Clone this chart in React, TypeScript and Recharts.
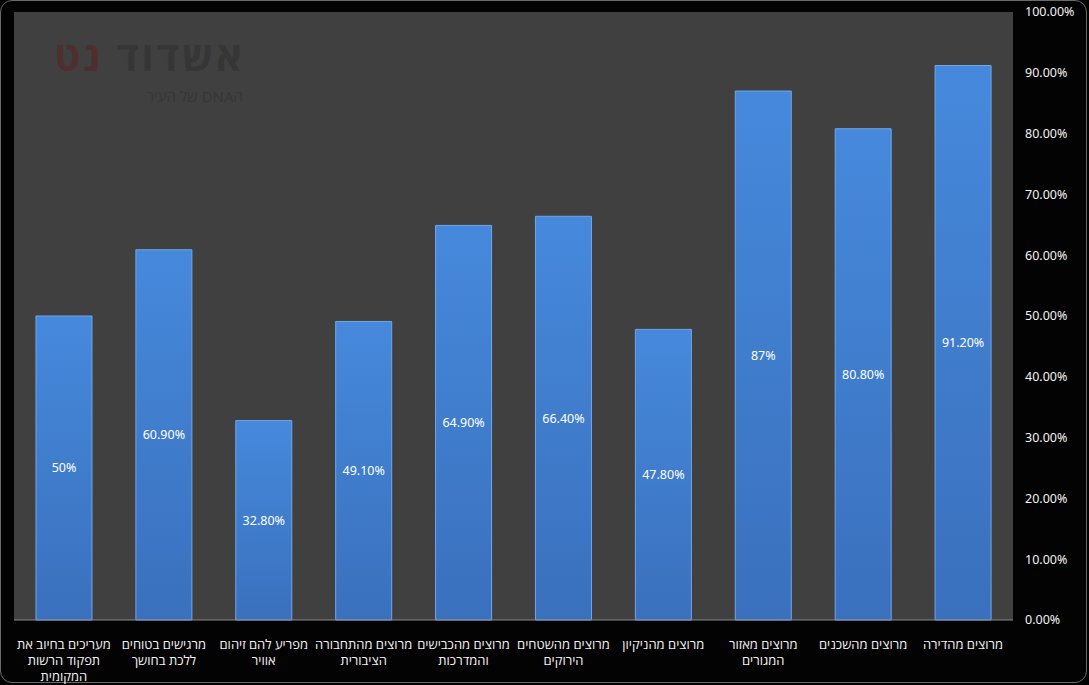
import React from 'react';
import {
  BarChart,
  Bar,
  XAxis,
  YAxis,
  CartesianGrid,
  LabelList,
} from 'recharts';

// קטגוריות (שורות מפוצלות כמו בגרף המקורי)
const categories: string[][] = [
  ['מעריכים בחיוב את', 'תפקוד הרשות', 'המקומית'],
  ['מרגישים בטוחים', 'ללכת בחושך'],
  ['מפריע להם זיהום', 'אוויר'],
  ['מרוצים מהתחבורה', 'הציבורית'],
  ['מרוצים מהכבישים', 'והמדרכות'],
  ['מרוצים מהשטחים', 'הירוקים'],
  ['מרוצים מהניקיון'],
  ['מרוצים מאזור', 'המגורים'],
  ['מרוצים מהשכנים'],
  ['מרוצים מהדירה'],
];

const values: number[] = [50, 60.9, 32.8, 49.1, 64.9, 66.4, 47.8, 87, 80.8, 91.2];

const valueLabels: string[] = [
  '50%', '60.90%', '32.80%', '49.10%', '64.90%',
  '66.40%', '47.80%', '87%', '80.80%', '91.20%',
];

const yTicks: number[] = [0, 10, 20, 30, 40, 50, 60, 70, 80, 90, 100];

const data = categories.map((lines, i) => ({
  name: String(i),
  lines,
  value: values[i],
  label: valueLabels[i],
}));

const FONT = '"Noto Sans", "Open Sans", sans-serif';

function CategoryTick(props: any) {
  const { x, y, payload } = props;
  const lines = categories[Number(payload.value)] || [];
  return (
    <text x={x} y={y + 21} textAnchor="middle" fill="#f2f2f2" fontSize={13} fontFamily={FONT}>
      {lines.map((l, i) => (
        <tspan key={i} x={x} dy={i === 0 ? 0 : 16}>
          {l}
        </tspan>
      ))}
    </text>
  );
}

export default function App() {
  return (
    <div
      style={{
        position: 'relative',
        width: 1089,
        height: 685,
        background: '#000',
      }}
    >
      <style>{'body{margin:0}'}</style>
      <div
        style={{
          position: 'absolute',
          left: 0,
          top: 0,
          width: 1085,
          height: 681,
          border: '1px solid #6a6a6a',
          borderRadius: 12,
          background: '#030303',
        }}
      />
      <div style={{ position: 'absolute', left: 0, top: 0 }}>
        <BarChart
          width={1089}
          height={685}
          data={data}
          margin={{ top: 12, right: 6, bottom: 0, left: 14 }}
          barCategoryGap="22%"
        >
          <defs>
            <linearGradient id="barFill" x1="0" y1="0" x2="0" y2="1">
              <stop offset="0%" stopColor="#4689dc" />
              <stop offset="100%" stopColor="#3a70bd" />
            </linearGradient>
          </defs>
          <CartesianGrid fill="#404040" horizontal={false} vertical={false} stroke="none" />
          <XAxis
            dataKey="name"
            interval={0}
            height={65}
            tick={<CategoryTick />}
            tickLine={false}
            axisLine={{ stroke: '#8a8a8a' }}
          />
          <YAxis
            orientation="right"
            domain={[0, 100]}
            ticks={yTicks}
            width={70}
            axisLine={false}
            tickLine={false}
            tickFormatter={(v: number) => v.toFixed(2) + '%'}
            tick={{ fill: '#f2f2f2', fontSize: 12.5, fontFamily: FONT, textAnchor: 'start' }}
            tickMargin={6}
          />
          <Bar
            dataKey="value"
            fill="url(#barFill)"
            stroke="#6fa6ea"
            strokeWidth={1}
            isAnimationActive={false}
          >
            <LabelList
              dataKey="label"
              position="center"
              fill="#ffffff"
              fontSize={12.5}
              fontFamily={FONT}
            />
          </Bar>
        </BarChart>
      </div>
      <div
        style={{
          position: 'absolute',
          left: 45,
          top: 36,
          width: 200,
          textAlign: 'right',
          direction: 'rtl',
          fontFamily: FONT,
          fontSize: 40,
          fontWeight: 'bold',
          letterSpacing: 3,
          lineHeight: '40px',
          color: '#363636',
          pointerEvents: 'none',
        }}
      >
        אשדוד <span style={{ color: '#4e2e2e' }}>נט</span>
      </div>
      <div
        style={{
          position: 'absolute',
          left: 100,
          top: 88,
          width: 143,
          textAlign: 'right',
          direction: 'rtl',
          fontFamily: FONT,
          fontSize: 15,
          lineHeight: '16px',
          color: '#363636',
          pointerEvents: 'none',
        }}
      >
        הDNA של העיר
      </div>
    </div>
  );
}
